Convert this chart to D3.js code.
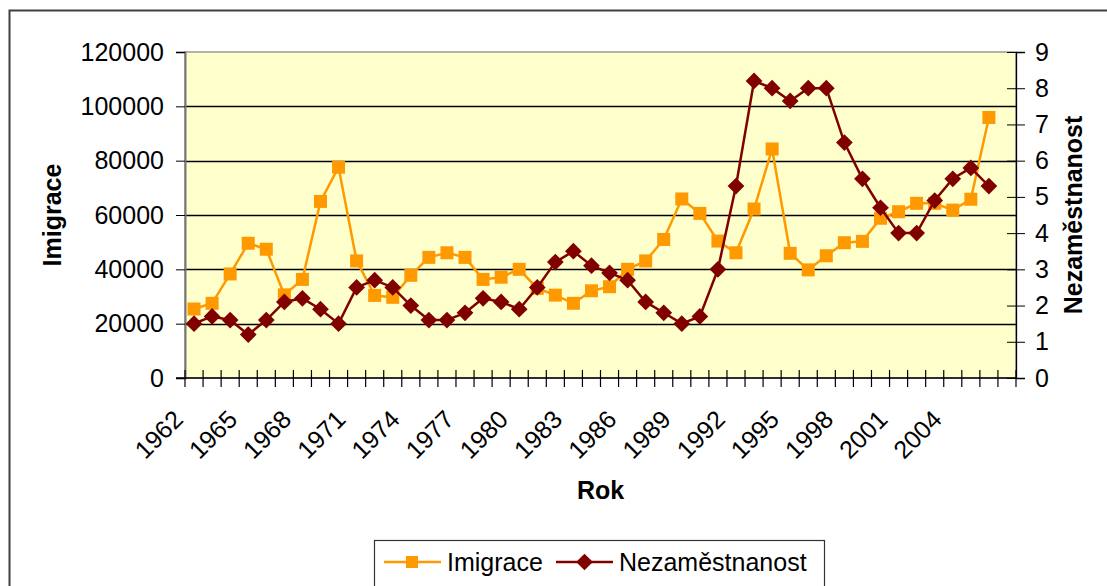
<!DOCTYPE html>
<html>
<head>
<meta charset="utf-8">
<script src="https://cdn.jsdelivr.net/npm/d3@7"></script>
<style>
  body { margin: 0; background: #fff; }
  svg { display: block; font-family: "Liberation Sans", Arial, sans-serif; }
</style>
</head>
<body>
<div id="chart"></div>
<script>
(function(){
  // categories (last slot is an empty category, like in the original sheet)
  var years = [1962,1963,1964,1965,1966,1967,1968,1969,1970,1971,1972,1973,1974,1975,1976,
    1977,1978,1979,1980,1981,1982,1983,1984,1985,1986,1987,1988,1989,1990,1991,
    1992,1993,1994,1995,1996,1997,1998,1999,2000,2001,2002,2003,2004,2005,2006];
  var categories = years.map(String).concat([""]);
  var tickLabels = ["1962","1965","1968","1971","1974","1977","1980","1983","1986","1989","1992","1995","1998","2001","2004"];

  var immigration = [25400,27500,38300,49600,47400,30600,36300,65000,77600,43100,30400,29700,37800,44400,46100,
    44400,36300,37100,40000,33000,30500,27500,32100,33600,40000,43100,51000,65900,60600,50400,
    46100,62200,84300,45900,39800,45000,49800,50300,58800,61200,64300,64300,61800,65800,95900];
  var unemployment = [1.5,1.7,1.6,1.2,1.6,2.1,2.2,1.9,1.5,2.5,2.7,2.5,2.0,1.6,1.6,
    1.8,2.2,2.1,1.9,2.5,3.2,3.5,3.1,2.9,2.7,2.1,1.8,1.5,1.7,3.0,
    5.3,8.2,8.0,7.65,8.0,8.0,6.5,5.5,4.7,4.0,4.0,4.9,5.5,5.8,5.3];

  var leftTicks = [0,20000,40000,60000,80000,100000,120000];
  var rightTicks = [0,1,2,3,4,5,6,7,8,9];

  var width = 1107, height = 586;
  var left = 185, right = 1016, top = 52, bottom = 378;
  var orange = "#ff9900", darkred = "#800000";

  var svg = d3.select("#chart").append("svg")
    .attr("width", width)
    .attr("height", height)

  // outer chart frame (runs past the bottom/right of the picture)
  svg.append("rect")
    .attr("x", 9.5).attr("y", 10.5)
    .attr("width", 1110).attr("height", 600)
    .attr("fill", "#fff")
    .attr("stroke", "#404040")
    .attr("stroke-width", 2)

  var x = d3.scaleBand().domain(categories).range([left, right]).padding(0)
  var edge = d3.scaleLinear().domain([0, categories.length]).range([left, right])
  var yL = d3.scaleLinear().domain([0, 120000]).range([bottom, top])
  var yR = d3.scaleLinear().domain([0, 9]).range([bottom, top])

  // plot area
  svg.append("rect")
    .attr("x", left).attr("y", top)
    .attr("width", right - left).attr("height", bottom - top)
    .attr("fill", "#ffffcc")
    .attr("stroke", "#999")
    .attr("stroke-width", 1.5)

  // gridlines
  svg.append("g").selectAll("line")
    .data(leftTicks.slice(1, -1))
    .enter().append("line")
    .attr("x1", left).attr("x2", right)
    .attr("y1", function(d){ return Math.round(yL(d)) + 0.5; })
    .attr("y2", function(d){ return Math.round(yL(d)) + 0.5; })
    .attr("stroke", "#000")
    .attr("stroke-width", 1.3)

  // left axis
  var gL = svg.append("g")
    .attr("transform", "translate(" + left + ",0)")
    .call(d3.axisLeft(yL).tickValues(leftTicks).tickSize(9).tickPadding(12).tickFormat(d3.format("d")))
  gL.select(".domain").attr("stroke", "#777").attr("stroke-width", 2)
  gL.selectAll("text").attr("font-size", 25).attr("fill", "#000").style("font-family", "inherit")

  // right axis, ticks cross the line
  var gR = svg.append("g")
    .attr("transform", "translate(" + right + ",0)")
    .call(d3.axisRight(yR).tickValues(rightTicks).tickSize(9).tickPadding(10))
  gR.selectAll(".tick line").attr("x1", -9)
  gR.select(".domain").attr("stroke", "#000").attr("stroke-width", 1.3)
  gR.selectAll("text").attr("font-size", 25).attr("fill", "#000").style("font-family", "inherit")

  // bottom axis: ticks between categories
  svg.append("line")
    .attr("x1", left - 9).attr("x2", right)
    .attr("y1", bottom).attr("y2", bottom)
    .attr("stroke", "#000").attr("stroke-width", 1.3)
  svg.append("g").selectAll("line")
    .data(d3.range(categories.length + 1))
    .enter().append("line")
    .attr("x1", function(d){ return edge(d); })
    .attr("x2", function(d){ return edge(d); })
    .attr("y1", bottom - 8).attr("y2", bottom + 9)
    .attr("stroke", "#000").attr("stroke-width", 1.2)

  svg.append("g").selectAll("text")
    .data(tickLabels)
    .enter().append("text")
    .attr("text-anchor", "end")
    .attr("font-size", 25)
    .attr("transform", function(d){
      return "translate(" + (x(d) + x.bandwidth() / 2 - 9.5) + "," + 421 + ") rotate(-45)";
    })
    .text(function(d){ return d; })

  // axis titles
  svg.append("text")
    .attr("transform", "translate(61," + ((top + bottom) / 2) + ") rotate(-90)")
    .attr("text-anchor", "middle")
    .attr("font-size", 25).attr("font-weight", "bold")
    .text("Imigrace")
  svg.append("text")
    .attr("transform", "translate(1082," + ((top + bottom) / 2) + ") rotate(-90)")
    .attr("text-anchor", "middle")
    .attr("font-size", 25).attr("font-weight", "bold")
    .text("Nezaměstnanost")
  svg.append("text")
    .attr("x", (left + right) / 2).attr("y", 499)
    .attr("text-anchor", "middle")
    .attr("font-size", 25).attr("font-weight", "bold")
    .text("Rok")

  var cx = function(d, i){ return x(categories[i]) + x.bandwidth() / 2; }

  // Imigrace series
  var lineL = d3.line().x(cx).y(function(d){ return yL(d); })
  svg.append("path")
    .datum(immigration)
    .attr("d", lineL)
    .attr("fill", "none").attr("stroke", orange).attr("stroke-width", 2.5)
  svg.append("g").selectAll("rect")
    .data(immigration)
    .enter().append("rect")
    .attr("x", function(d, i){ return cx(d, i) - 6.5; })
    .attr("y", function(d){ return yL(d) - 6.5; })
    .attr("width", 13).attr("height", 13)
    .attr("fill", orange)

  // Nezaměstnanost series
  var lineR = d3.line().x(cx).y(function(d){ return yR(d); })
  svg.append("path")
    .datum(unemployment)
    .attr("d", lineR)
    .attr("fill", "none").attr("stroke", darkred).attr("stroke-width", 2.5)
  // square turned 45deg -> diamond about 16-17px across
  var diamond = d3.symbol().type(d3.symbolSquare).size(140)
  svg.append("g").selectAll("path")
    .data(unemployment)
    .enter().append("path")
    .attr("d", diamond)
    .attr("transform", function(d, i){ return "translate(" + cx(d, i) + "," + yR(d) + ") rotate(45)"; })
    .attr("fill", darkred)

  // legend
  var leg = svg.append("g")
  leg.append("rect")
    .attr("x", 374.5).attr("y", 540.5)
    .attr("width", 450).attr("height", 70)
    .attr("fill", "#fff").attr("stroke", "#333").attr("stroke-width", 1.2)
  leg.append("line").attr("x1", 384).attr("x2", 441).attr("y1", 562).attr("y2", 562)
    .attr("stroke", orange).attr("stroke-width", 2.5)
  leg.append("rect").attr("x", 406).attr("y", 556).attr("width", 12).attr("height", 12).attr("fill", orange)
  leg.append("text").attr("x", 447).attr("y", 571).attr("font-size", 25).text("Imigrace")
  leg.append("line").attr("x1", 556).attr("x2", 613).attr("y1", 562).attr("y2", 562)
    .attr("stroke", darkred).attr("stroke-width", 2.5)
  leg.append("path").attr("d", diamond)
    .attr("transform", "translate(584.5,562) rotate(45)")
    .attr("fill", darkred)
  leg.append("text").attr("x", 619).attr("y", 571).attr("font-size", 25).text("Nezaměstnanost")
})();
</script>
</body>
</html>
